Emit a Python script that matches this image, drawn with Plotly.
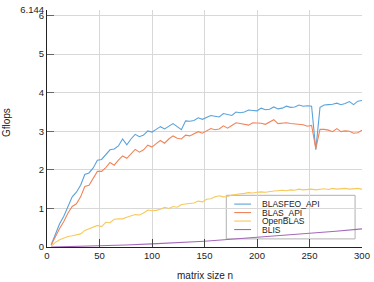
import plotly.graph_objects as go

# ---------------- data ----------------
n = list(range(4, 301, 4))

blasfeo_api = [0.06, 0.35, 0.60, 0.80, 1.05, 1.30, 1.42, 1.60, 1.88, 1.92,
               2.05, 2.25, 2.27, 2.40, 2.52, 2.54, 2.62, 2.80, 2.65, 2.80,
               2.92, 2.86, 2.90, 3.01, 2.98, 3.05, 3.12, 3.06, 3.12, 3.20,
               3.12, 3.04, 3.27, 3.26, 3.28, 3.35, 3.31, 3.36, 3.41, 3.39,
               3.37, 3.46, 3.44, 3.41, 3.50, 3.48, 3.50, 3.55, 3.54, 3.53,
               3.60, 3.56, 3.57, 3.63, 3.58, 3.60, 3.65, 3.62, 3.63, 3.68,
               3.65, 3.66, 3.65, 2.52, 3.62, 3.68, 3.69, 3.70, 3.73, 3.69,
               3.72, 3.77, 3.69, 3.78, 3.80]

blas_api = [0.05, 0.28, 0.48, 0.66, 0.88, 1.05, 1.12, 1.30, 1.57, 1.60,
            1.78, 1.96, 1.96, 2.06, 2.19, 2.12, 2.25, 2.36, 2.30, 2.42,
            2.53, 2.46, 2.52, 2.64, 2.59, 2.68, 2.76, 2.69, 2.80, 2.88,
            2.82, 2.80, 2.90, 2.88, 2.94, 2.99, 2.95, 3.02, 3.07, 3.04,
            3.06, 3.14, 3.08, 3.15, 3.22, 3.20, 3.17, 3.16, 3.22, 3.22,
            3.21, 3.18, 3.24, 3.30, 3.20, 3.21, 3.22, 3.20, 3.19, 3.19,
            3.17, 3.13, 3.15, 2.55, 3.05, 3.05, 3.03, 2.99, 3.07, 2.99,
            3.01, 3.00, 2.95, 2.96, 3.03]

openblas = [0.02, 0.12, 0.19, 0.24, 0.27, 0.29, 0.32, 0.34, 0.43, 0.48,
            0.51, 0.56, 0.53, 0.64, 0.63, 0.72, 0.73, 0.73, 0.77, 0.80,
            0.84, 0.83, 0.88, 0.96, 0.94, 0.95, 0.98, 1.03, 1.00, 1.05,
            1.03, 1.10, 1.11, 1.12, 1.14, 1.19, 1.17, 1.24, 1.25, 1.30,
            1.33, 1.30, 1.31, 1.35, 1.36, 1.37, 1.39, 1.41, 1.40, 1.42,
            1.43, 1.42, 1.44, 1.45, 1.46, 1.47, 1.46, 1.48, 1.47, 1.50,
            1.48, 1.49, 1.50, 1.48, 1.50, 1.51, 1.49, 1.52, 1.50, 1.51,
            1.52, 1.50, 1.51, 1.52, 1.50]

blis_n = [4, 25, 50, 75, 100, 125, 150, 175, 200, 225, 250, 275, 300]
blis = [0.0, 0.01, 0.03, 0.05, 0.08, 0.11, 0.15, 0.20, 0.25, 0.30, 0.35, 0.41, 0.47]

series_names = ["BLASFEO_API", "BLAS_API", "OpenBLAS", "BLIS"]
series_colors = ["#5aa2dc", "#f0845a", "#f8c95c", "#a468b8"]

x_ticks = [0, 50, 100, 150, 200, 250, 300]
y_ticks = [0, 1, 2, 3, 4, 5, 6, 6.1439]
y_tick_labels = ["0", "1", "2", "3", "4", "5", "6", "6.144"]

# ---------------- figure ----------------
W, H = 374, 282
L, R, T, B = 47, 9, 4, 35
PW, PH = W - L - R, H - T - B

def dx(px):
    return (px - L) / PW

def dy(py):
    return (H - B - py) / PH

fig = go.Figure()
xs = [n, n, n, blis_n]
ys = [blasfeo_api, blas_api, openblas, blis]
for name, color, xv, yv in zip(series_names, series_colors, xs, ys):
    fig.add_trace(go.Scatter(x=xv, y=yv, mode="lines", name=name,
                             line=dict(color=color, width=1.1),
                             showlegend=False, cliponaxis=False,
                             hoverinfo="skip"))

font = "Liberation Sans, Arial, sans-serif"
grid = "#d8d8d8"

# manual legend (compact, like the original)
shapes = [dict(type="rect", xref="paper", yref="paper",
               x0=dx(228), x1=dx(358), y0=dy(238.7), y1=dy(194),
               line=dict(color="#b0b0b0", width=1), fillcolor="white",
               layer="below")]
annotations = []
row_y = [203, 211.7, 220.4, 229.1]
for name, color, ry in zip(series_names, series_colors, row_y):
    shapes.append(dict(type="line", xref="paper", yref="paper",
                       x0=dx(236), x1=dx(253), y0=dy(ry), y1=dy(ry),
                       line=dict(color=color, width=1.1), layer="above"))
    annotations.append(dict(xref="paper", yref="paper",
                            x=dx(262), y=dy(ry), text=name, showarrow=False,
                            xanchor="left", yanchor="middle",
                            font=dict(family=font, size=8.5, color="#222")))

annotations.append(dict(xref="paper", yref="paper", x=dx(207), y=dy(276),
                        text="matrix size n", showarrow=False,
                        xanchor="center", yanchor="middle",
                        font=dict(family=font, size=10, color="#222")))
annotations.append(dict(xref="paper", yref="paper", x=dx(5.5), y=dy(119),
                        text="Gflops", showarrow=False, textangle=-90,
                        xanchor="center", yanchor="middle",
                        font=dict(family=font, size=10, color="#222")))

fig.update_layout(
    width=W, height=H,
    margin=dict(l=L, r=R, t=T, b=B, pad=0),
    paper_bgcolor="white", plot_bgcolor="white",
    font=dict(family=font, size=9.5, color="#222"),
    shapes=shapes, annotations=annotations,
    hovermode=False,
)
fig.update_xaxes(range=[0, 300], tickvals=x_ticks, ticks="inside", ticklen=8,
                 tickcolor="#444", showgrid=True, gridcolor=grid, gridwidth=1,
                 showline=True, linecolor="#222", linewidth=1, zeroline=False,
                 tickfont=dict(size=9.5))
fig.update_yaxes(range=[0, 6.144], tickvals=y_ticks, ticktext=y_tick_labels,
                 ticks="inside", ticklen=7, tickcolor="#666",
                 showgrid=True, gridcolor=grid, gridwidth=1,
                 showline=True, linecolor="#222", linewidth=1, zeroline=False,
                 tickfont=dict(size=9.5), ticklabeloverflow="allow")

fig.write_html("out.html",
               config={"displayModeBar": False, "staticPlot": True},
               post_script="document.body.style.margin='0';"
                           "document.body.style.overflow='hidden';")
